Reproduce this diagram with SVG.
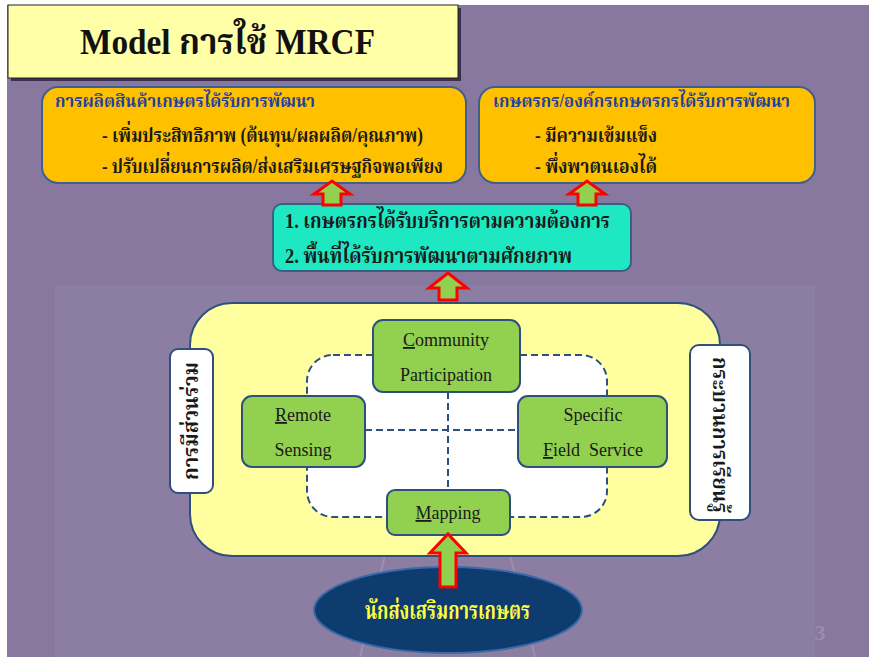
<svg xmlns="http://www.w3.org/2000/svg" width="869" height="657" viewBox="0 0 869 657">
<defs>
<style>
.th{font-weight:bold}
.orange{fill:#FFC000;stroke:#3F5F8F;stroke-width:2}
.green{fill:#92D050;stroke:#2F4F7F;stroke-width:2}
.side{fill:#FFFFFF;stroke:#2F4F7F;stroke-width:2}
.arrow{fill:#92D050;stroke:#FF0000;stroke-width:3;stroke-linejoin:miter}
.dash{fill:none;stroke:#2F4F7F;stroke-width:2;stroke-dasharray:7 4}
.blue{fill:#1F3FA0}
.dark{fill:#1A1A1A}
.gtxt{font-size:18px;fill:#1A1A1A;text-anchor:middle}
</style>
</defs>
<rect x="0" y="0" width="869" height="657" fill="#FFFFFF"/>
<rect x="7" y="5" width="862" height="652" fill="#8878A0"/>
<rect x="55" y="285" width="760" height="372" fill="#8C7DA2"/>
<g opacity="0.18" stroke="#E8E0F0" stroke-width="2" fill="none">
<path d="M448 300 L360 657"/>
<path d="M448 300 L535 657"/>
</g>

<g id="title">
<rect x="11" y="8" width="450" height="73" fill="#3A3050"/>
<rect x="8" y="5" width="450" height="73" fill="#FFFFA8" stroke="#222" stroke-width="1"/>
<text x="80" y="54" font-family="'Liberation Serif', 'Noto Serif Thai', serif" font-weight="bold" font-size="36" fill="#111" textLength="295" lengthAdjust="spacingAndGlyphs">Model การใช้ MRCF</text>
</g>

<g id="box-products" font-family="'Liberation Serif', 'Noto Serif Thai', serif">
<rect class="orange" x="42" y="87" width="424" height="96" rx="16"/>
<text class="th blue" x="55" y="107" font-size="18" textLength="260" lengthAdjust="spacingAndGlyphs">การผลิตสินค้าเกษตรได้รับการพัฒนา</text>
<text class="th dark" x="102" y="142" font-size="20" textLength="321" lengthAdjust="spacingAndGlyphs">- เพิ่มประสิทธิภาพ (ต้นทุน/ผลผลิต/คุณภาพ)</text>
<text class="th dark" x="102" y="173" font-size="20" textLength="341" lengthAdjust="spacingAndGlyphs">- ปรับเปลี่ยนการผลิต/ส่งเสริมเศรษฐกิจพอเพียง</text>
</g>

<g id="box-farmers" font-family="'Liberation Serif', 'Noto Serif Thai', serif">
<rect class="orange" x="479" y="87" width="336" height="96" rx="16"/>
<text class="th blue" x="493" y="107" font-size="18" textLength="297" lengthAdjust="spacingAndGlyphs">เกษตรกร/องค์กรเกษตรกรได้รับการพัฒนา</text>
<text class="th dark" x="535" y="142" font-size="20" textLength="122" lengthAdjust="spacingAndGlyphs">- มีความเข้มแข็ง</text>
<text class="th dark" x="535" y="173" font-size="20" textLength="122" lengthAdjust="spacingAndGlyphs">- พึ่งพาตนเองได้</text>
</g>

<g id="box-results" font-family="'Liberation Serif', 'Noto Serif Thai', serif">
<rect x="273" y="204" width="358" height="67" rx="9" fill="#1EE8C2" stroke="#3A5F80" stroke-width="2"/>
<text class="th dark" x="285" y="228" font-size="21" textLength="325" lengthAdjust="spacingAndGlyphs">1. เกษตรกรได้รับบริการตามความต้องการ</text>
<text class="th dark" x="285" y="263" font-size="21" textLength="287" lengthAdjust="spacingAndGlyphs">2. พื้นที่ได้รับการพัฒนาตามศักยภาพ</text>
</g>

<g id="framework">
<rect x="190" y="303" width="530" height="253" rx="42" fill="#FFFFA0" stroke="#2F4F7F" stroke-width="2"/>
<rect x="307" y="355" width="300" height="162" rx="26" fill="#FFFFFF" stroke="none"/>
<rect x="307" y="355" width="300" height="162" rx="26" class="dash"/>
<path class="dash" d="M448 392 V490 M365 430 H518"/>
</g>

<g id="side-participation" font-family="'Liberation Serif', 'Noto Serif Thai', serif">
<rect class="side" x="170" y="349" width="43" height="144" rx="8"/>
<text class="th dark" transform="translate(198 421) rotate(-90)" x="-59" font-size="21" textLength="118" lengthAdjust="spacingAndGlyphs">การมีส่วนร่วม</text>
</g>

<g id="side-learning" font-family="'Liberation Serif', 'Noto Serif Thai', serif">
<rect class="side" x="690" y="345" width="60" height="175" rx="9"/>
<text class="th dark" transform="translate(713 435) rotate(90)" x="-78" font-size="21" textLength="156" lengthAdjust="spacingAndGlyphs">กระบวนการเรียนรู้</text>
</g>

<g id="node-community" font-family="'Liberation Serif', serif">
<rect class="green" x="373" y="320" width="147" height="72" rx="10"/>
<text class="gtxt" x="446" y="346"><tspan text-decoration="underline">C</tspan>ommunity</text>
<text class="gtxt" x="446" y="381">Participation</text>
</g>

<g id="node-remote" font-family="'Liberation Serif', serif">
<rect class="green" x="242" y="396" width="123" height="71" rx="10"/>
<text class="gtxt" x="303" y="421"><tspan text-decoration="underline">R</tspan>emote</text>
<text class="gtxt" x="303" y="456">Sensing</text>
</g>

<g id="node-specific" font-family="'Liberation Serif', serif">
<rect class="green" x="518" y="396" width="149" height="71" rx="10"/>
<text class="gtxt" x="593" y="421">Specific</text>
<text class="gtxt" x="593" y="456" xml:space="preserve"><tspan text-decoration="underline">F</tspan>ield  Service</text>
</g>

<g id="node-mapping" font-family="'Liberation Serif', serif">
<rect class="green" x="387" y="490" width="123" height="45" rx="8"/>
<text class="gtxt" x="448" y="519"><tspan text-decoration="underline">M</tspan>apping</text>
</g>

<g id="node-extension" font-family="'Liberation Serif', 'Noto Serif Thai', serif">
<ellipse cx="448" cy="610" rx="134" ry="43" fill="#0E3C6E" stroke="#3A6AA8" stroke-width="2"/>
<text class="th" x="365" y="619" font-size="24" fill="#FFFF40" textLength="165" lengthAdjust="spacingAndGlyphs">นักส่งเสริมการเกษตร</text>
</g>

<g id="connectors">
<path class="arrow" d="M323 205 V194 H314 L332 181 L350 194 H341 V205 Z"/>
<path class="arrow" d="M578 205 V194 H569 L587 181 L605 194 H596 V205 Z"/>
<path class="arrow" d="M439 300 V288 H429 L448 273 L467 288 H457 V300 Z"/>
<path class="arrow" d="M440 587 V553 H430 L448 534 L466 553 H456 V587 Z"/>
</g>

<text x="820" y="640" font-family="'Liberation Serif', serif" font-size="22" font-weight="bold" fill="#9A8CB0" text-anchor="middle">3</text>
</svg>
